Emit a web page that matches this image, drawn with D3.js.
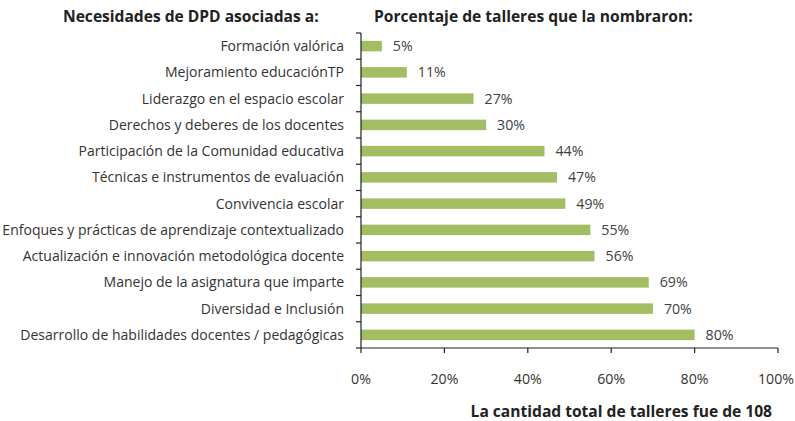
<!DOCTYPE html>
<html><head><meta charset="utf-8">
<script src="https://cdn.jsdelivr.net/npm/d3@7"></script>
<style>body{margin:0;background:#fff}svg{display:block}</style>
</head><body>
<svg id="c" width="795" height="421"></svg>
<script>
const categories = ["Formación valórica","Mejoramiento educaciónTP","Liderazgo en el espacio escolar","Derechos y deberes de los docentes","Participación de la Comunidad educativa","Técnicas e instrumentos de evaluación","Convivencia escolar","Enfoques y prácticas de aprendizaje contextualizado","Actualización e innovación metodológica docente","Manejo de la asignatura que imparte","Diversidad e Inclusión","Desarrollo de habilidades docentes / pedagógicas"];
const values = [5,11,27,30,44,47,49,55,56,69,70,80];
const xTicks = [0,20,40,60,80,100];
const titleLeft = "Necesidades de DPD asociadas a:";
const titleRight = "Porcentaje de talleres que la nombraron:";
const footer = "La cantidad total de talleres fue de 108";

const svg = d3.select("#c");
const font = "'Open Sans', 'Noto Sans', sans-serif";
const m = {left:361, right:778, top:33, bottom:348};
const x = d3.scaleLinear().domain([0,100]).range([m.left,m.right]);
const y = d3.scaleBand().domain(categories).range([m.top,m.bottom]).paddingInner(0.6).paddingOuter(0.3);
const yb = d3.scaleBand().domain(categories).range([m.top,m.bottom]);

function fitSize(text, weight, target, base){
  const t = svg.append("text").attr("font-family",font).attr("font-weight",weight).attr("font-size",base).text(text);
  const w = t.node().getComputedTextLength(); t.remove();
  return base*target/w;
}
const labelSize = fitSize(categories[11], "normal", 324, 13);
const numSize = fitSize("80%", "normal", 28, 13);
const titleSize = fitSize(titleRight, "bold", 319, 15);

svg.selectAll("rect.bar").data(values).join("rect").attr("class","bar")
  .attr("x",x(0)).attr("y",(d,i)=>y(categories[i])).attr("height",y.bandwidth())
  .attr("width",d=>x(d)-x(0)).attr("fill","#a2bd62");

svg.selectAll("text.val").data(values).join("text").attr("class","val")
  .attr("x",d=>x(d)+11).attr("y",(d,i)=>yb(categories[i])+yb.bandwidth()/2+5)
  .attr("font-family",font).attr("font-size",numSize).attr("fill","#404040")
  .text(d=>d+"%");

svg.selectAll("text.cat").data(categories).join("text").attr("class","cat")
  .attr("x",344).attr("y",d=>yb(d)+yb.bandwidth()/2+5).attr("text-anchor","end")
  .attr("font-family",font).attr("font-size",labelSize).attr("fill","#333")
  .text(d=>d);

const ax = svg.append("g").attr("stroke","#222").attr("stroke-width",1.2);
ax.append("line").attr("x1",m.left).attr("x2",m.left).attr("y1",m.top).attr("y2",m.bottom);
const bounds = categories.map(c=>yb(c)).concat([m.bottom]);
ax.selectAll("line.yt").data(bounds).join("line").attr("class","yt")
  .attr("x1",m.left-5).attr("x2",m.left).attr("y1",d=>d).attr("y2",d=>d);
ax.append("line").attr("x1",m.left).attr("x2",m.right).attr("y1",m.bottom).attr("y2",m.bottom);
ax.selectAll("line.xt").data(xTicks).join("line").attr("class","xt")
  .attr("x1",d=>x(d)).attr("x2",d=>x(d)).attr("y1",m.bottom).attr("y2",m.bottom+5);

const xt = svg.selectAll("text.xt").data(xTicks).join("text").attr("class","xt")
  .attr("y",384).attr("text-anchor","middle")
  .attr("font-family",font).attr("font-size",numSize).attr("fill","#333")
  .text(d=>d+"%");
xt.attr("x",function(d){ const w=this.getComputedTextLength(); return Math.min(x(d), 794-w/2); });

svg.append("text").attr("x",63).attr("y",22).attr("font-family",font).attr("font-weight","bold")
  .attr("font-size",titleSize).attr("fill","#222").text(titleLeft);
svg.append("text").attr("x",374).attr("y",22).attr("font-family",font).attr("font-weight","bold")
  .attr("font-size",titleSize).attr("fill","#222").text(titleRight);
svg.append("text").attr("x",772).attr("y",417).attr("text-anchor","end").attr("font-family",font).attr("font-weight","bold")
  .attr("font-size",titleSize).attr("fill","#222").text(footer);
</script>
</body></html>
